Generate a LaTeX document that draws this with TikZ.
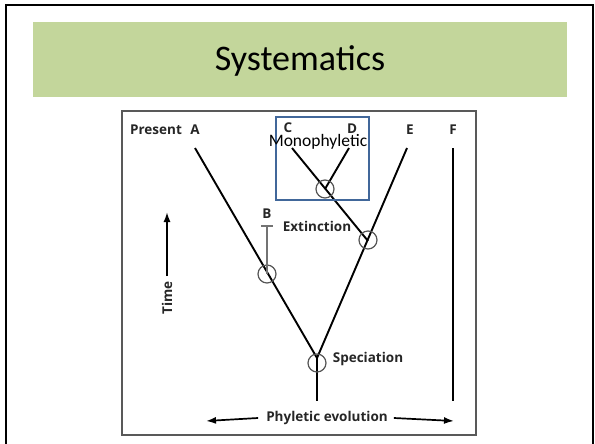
\documentclass[tikz,border=0pt]{standalone}
\usepackage{fontspec}
\setmainfont{Carlito}
\newfontfamily\lab{Open Sans}
\usetikzlibrary{arrows.meta}
\definecolor{titlegreen}{HTML}{C3D69B}
\definecolor{monoblue}{HTML}{41679A}
\definecolor{ringgray}{HTML}{555555}
\begin{document}
\begin{tikzpicture}[x=1pt,y=-1pt,
  branch/.style={line width=1.9pt,black},
  ring/.style={draw=ringgray,line width=1.2pt,circle,minimum size=18pt,inner sep=0pt},
  lbl/.style={font=\lab\bfseries\fontsize{13.5}{15}\selectfont,inner sep=0pt,text=black!85},
  axarrow/.style={line width=1.7pt,-{Latex[length=10pt,width=7pt]}}]
\useasboundingbox (0,0) rectangle (595,444);
% slide frame
\draw[line width=1.8pt] (6,446) -- (6,5) -- (593,5) -- (593,446);
% title band
\fill[titlegreen] (33,22) rectangle (567,97);
\node[font=\fontsize{36}{40}\selectfont,inner sep=0pt] (title) at (300,61) {Systematics};
% image frame
\draw[draw=black!65,line width=1.2pt] (122,111) rectangle (476,435);
% labels top
\node[lbl] (present) at (156,130) {Present};
\node[lbl] (la) at (195,130) {A};
\node[lbl] (lc) at (288,128) {C};
\node[lbl] (ld) at (352,129) {D};
\node[lbl] (le) at (410,130) {E};
\node[lbl] (lf) at (453,130) {F};
% branch ends
\coordinate (a0) at (195,148);
\coordinate (c0) at (292,148);
\coordinate (d0) at (349,148);
\coordinate (e0) at (407,148);
\coordinate (f0) at (453,148);
\coordinate (f1) at (453,401);
\coordinate (sp) at (317,358);
\coordinate (stem) at (317,401);
\coordinate (cd) at (325,189);
\coordinate (ex) at (368,241);
% branches
\draw[branch] (a0) -- (sp) -- (e0);
\draw[branch] (sp) -- (stem);
\draw[branch] (c0) -- (ex);
\draw[branch] (d0) -- (cd);
\draw[branch] (f0) -- (f1);
% B side branch
\node[ring] (rb) at (267,274) {};
\coordinate (btop) at (267,226);
\draw[draw=black!55,line width=1.3pt] (btop) -- (rb.center);
\draw[draw=black!55,line width=1.3pt] ([xshift=-6pt]btop) -- ([xshift=6pt]btop);
\node[lbl] (lb) at (267,214) {B};
% rings
\node[ring] (rcd) at (cd) {};
\node[ring] (rex) at (368,240) {};
\node[ring] (rsp) at (317,363) {};
% labels
\node[lbl] (ext) at (317,226) {Extinction};
\node[lbl] (spec) at (368,359) {Speciation};
\node[lbl] (phy) at (327,418) {Phyletic evolution};
\node[lbl,rotate=90] (time) at (167,298) {Time};
% axes arrows
\coordinate (tup) at (167,212);
\draw[axarrow] ([yshift=5pt]time.east) -- (tup);
\coordinate (pl) at (206,421);
\coordinate (pr) at (454,421);
\draw[axarrow] ([xshift=-8pt]phy.west) -- (pl);
\draw[axarrow] ([xshift=6pt]phy.east) -- (pr);
% monophyletic box
\draw[draw=monoblue,line width=1.5pt] (276,117) rectangle (369,200);
\node[font=\fontsize{17.5}{20}\selectfont,inner sep=0pt] (mono) at (318,142) {Monophyletic};
\end{tikzpicture}
\end{document}
